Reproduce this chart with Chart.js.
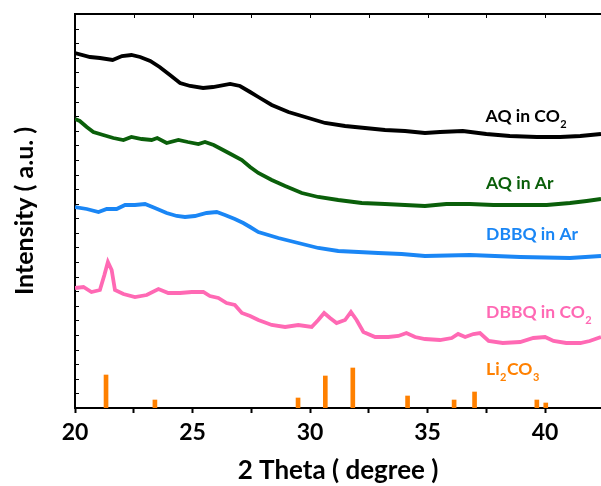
<!DOCTYPE html>
<html>
<head>
<meta charset="utf-8">
<script src="https://cdn.jsdelivr.net/npm/chart.js@4.4.1/dist/chart.umd.min.js"></script>
<style>
  html, body { margin: 0; padding: 0; background: #fff; }
</style>
</head>
<body>
<canvas id="chart" width="601" height="486"></canvas>
<script>
// 2 theta (degree) and intensity (a.u., stacked offsets as plotted)
const aqCo2Theta = [20.0, 20.64, 21.06, 21.6, 22.0, 22.4, 22.77, 23.2, 23.6, 24.04, 24.47, 24.9, 25.45, 25.87, 26.6, 27.02, 27.45, 27.8, 28.37, 29.08, 29.79, 30.64, 31.49, 32.34, 33.19, 34.04, 34.89, 35.53, 36.5, 37.5, 38.5, 39.65, 40.64, 41.5, 42.38];
const aqCo2Int = [355, 351, 350, 348, 352, 353, 351, 347, 341, 333, 325, 322, 320, 321, 324, 322, 316, 311, 303, 296, 291, 285, 282, 280, 278, 277, 275, 276, 277, 274, 272, 271, 271, 272, 274];

const aqArTheta = [20.0, 20.2, 20.5, 20.78, 21.2, 21.63, 22.06, 22.4, 22.84, 23.26, 23.5, 23.9, 24.4, 24.8, 25.25, 25.53, 25.9, 26.3, 26.7, 27.1, 27.45, 27.8, 28.37, 28.94, 29.65, 30.35, 31.2, 32.2, 33.19, 34.04, 34.89, 35.8, 36.8, 37.8, 38.94, 40.07, 41.06, 41.77, 42.38];
const aqArInt = [289, 287, 281, 276, 273, 270, 268, 271, 269, 268, 270, 265, 268, 266, 264, 266, 263, 258, 253, 248, 241, 235, 228, 222, 215, 211, 208, 205, 204, 203, 202, 204, 204, 203, 203, 203, 205, 207, 209];

const dbbqArTheta = [20.0, 20.5, 21.0, 21.35, 21.77, 22.13, 22.55, 22.98, 23.4, 23.9, 24.33, 24.68, 25.1, 25.6, 26.03, 26.38, 26.8, 27.16, 27.45, 27.8, 28.65, 29.5, 30.35, 31.2, 32.06, 32.9, 33.9, 34.89, 36.8, 38.94, 41.06, 42.38];
const dbbqArInt = [201, 199, 196, 199, 199, 203, 203, 204, 200, 195, 192, 191, 192, 195, 196, 193, 189, 185, 181, 176, 170, 165, 160, 157, 156, 155, 154, 152, 153, 151, 150, 152];

const dbbqCo2Theta = [20.0, 20.36, 20.7, 21.06, 21.25, 21.4, 21.56, 21.7, 22.06, 22.55, 23.05, 23.55, 23.97, 24.47, 24.97, 25.46, 25.74, 26.1, 26.45, 26.8, 27.1, 27.45, 27.8, 28.37, 28.94, 29.5, 30.07, 30.35, 30.6, 30.85, 31.13, 31.49, 31.74, 31.98, 32.27, 32.77, 33.33, 33.76, 34.1, 34.47, 34.89, 35.53, 36.03, 36.3, 36.6, 36.95, 37.23, 37.6, 38.2, 38.94, 39.5, 40.0, 40.36, 40.9, 41.5, 41.9, 42.38];
const dbbqCo2Int = [120, 121, 116, 118, 133, 146, 138, 118, 114, 111, 113, 119, 115, 115, 116, 116, 112, 110, 105, 103, 95, 92, 88, 83, 81, 83, 81, 88, 95, 90, 85, 88, 96, 88, 76, 71, 71, 72, 75, 71, 69, 68, 70, 74, 71, 74, 75, 67, 65, 66, 70, 71, 67, 65, 65, 67, 71];

// Li2CO3 reference peaks
const li2co3Theta = [21.32, 23.4, 29.49, 30.65, 31.82, 34.15, 36.13, 37.0, 39.65, 40.03];
const li2co3Int = [33, 8, 10, 32, 40, 12, 8, 16, 8, 5];

const pairs = (xs, ys) => xs.map((x, i) => ({ x: x, y: ys[i] }));

const FONT = 'Lato, "Open Sans", sans-serif';

const decor = {
  id: 'decor',
  afterDraw(chart) {
    const { ctx, chartArea: a, scales: { x, y } } = chart;
    ctx.save();
    // top frame line with small inward ticks
    ctx.strokeStyle = '#000';
    ctx.lineWidth = 2;
    ctx.beginPath();
    ctx.moveTo(a.left - 1, a.top);
    ctx.lineTo(a.right, a.top);
    ctx.stroke();
    ctx.lineWidth = 1;
    ctx.beginPath();
    x.ticks.forEach(t => {
      const px = Math.round(x.getPixelForValue(t.value)) + 0.5;
      ctx.moveTo(px, a.top);
      ctx.lineTo(px, a.top + 4);
    });
    y.ticks.forEach(t => {
      const py = Math.round(y.getPixelForValue(t.value)) + 0.5;
      ctx.moveTo(a.left, py);
      ctx.lineTo(a.left + 4, py);
    });
    ctx.stroke();

    // curve labels
    const labels = [
      { parts: [['AQ in CO', 0], ['2', 1]], color: '#000000', t: 37.47, v: 286 },
      { parts: [['AQ in Ar', 0]], color: '#0a5f0a', t: 37.49, v: 219 },
      { parts: [['DBBQ in Ar', 0]], color: '#1a86f5', t: 37.49, v: 168 },
      { parts: [['DBBQ in CO', 0], ['2', 1]], color: '#ff69b4', t: 37.49, v: 90 },
      { parts: [['Li', 0], ['2', 1], ['CO', 0], ['3', 1]], color: '#ff8000', t: 37.49, v: 33 }
    ];
    ctx.textBaseline = 'alphabetic';
    ctx.textAlign = 'left';
    labels.forEach(l => {
      let px = x.getPixelForValue(l.t);
      const py = y.getPixelForValue(l.v);
      ctx.fillStyle = l.color;
      l.parts.forEach(([s, sub]) => {
        ctx.font = sub ? 'bold 11px ' + FONT : 'bold 17.5px ' + FONT;
        ctx.fillText(s, px, sub ? py + 6 : py);
        px += ctx.measureText(s).width + 0.5;
      });
    });
    ctx.restore();
  }
};

new Chart(document.getElementById('chart').getContext('2d'), {
  type: 'line',
  data: {
    datasets: [
      { label: 'AQ in CO2', data: pairs(aqCo2Theta, aqCo2Int), borderColor: '#000000', borderWidth: 3.8, pointRadius: 0 },
      { label: 'AQ in Ar', data: pairs(aqArTheta, aqArInt), borderColor: '#0a5f0a', borderWidth: 3.8, pointRadius: 0 },
      { label: 'DBBQ in Ar', data: pairs(dbbqArTheta, dbbqArInt), borderColor: '#1a86f5', borderWidth: 3.8, pointRadius: 0 },
      { label: 'DBBQ in CO2', data: pairs(dbbqCo2Theta, dbbqCo2Int), borderColor: '#ff69b4', borderWidth: 3.8, pointRadius: 0 },
      { type: 'bar', label: 'Li2CO3', data: pairs(li2co3Theta, li2co3Int), backgroundColor: '#ff8000', barThickness: 4 }
    ]
  },
  options: {
    responsive: false,
    animation: false,
    layout: { padding: { top: 14, right: 0, left: 0, bottom: 0 } },
    plugins: { legend: { display: false }, tooltip: { enabled: false } },
    scales: {
      x: {
        type: 'linear',
        min: 20,
        max: 42.38,
        offset: false,
        grid: { display: true, drawOnChartArea: false, offset: false, tickLength: 5, tickWidth: 2, color: '#000' },
        border: { display: true, color: '#000', width: 2 },
        ticks: {
          stepSize: 2.5,
          includeBounds: false,
          autoSkip: false,
          maxRotation: 0,
          padding: 6,
          color: '#000',
          font: { family: FONT, size: 23, weight: 'bold' },
          callback: v => (v % 5 === 0 ? String(v) : '')
        },
        title: {
          display: true,
          text: '2 Theta ( degree )',
          color: '#000',
          font: { family: FONT, size: 26, weight: 'bold' },
          padding: { top: 0, bottom: 0 }
        },
        afterFit: s => { s.height = 78; }
      },
      y: {
        min: 0,
        max: 394,
        grid: { display: false },
        border: { display: true, color: '#000', width: 2 },
        ticks: { display: false, stepSize: 14.6 },
        title: {
          display: true,
          text: 'Intensity ( a.u. )',
          color: '#000',
          font: { family: FONT, size: 25, weight: 'bold' },
          padding: { top: 10, bottom: 0 }
        },
        afterFit: s => { s.width = 75; }
      }
    }
  },
  plugins: [decor]
});
</script>
</body>
</html>
